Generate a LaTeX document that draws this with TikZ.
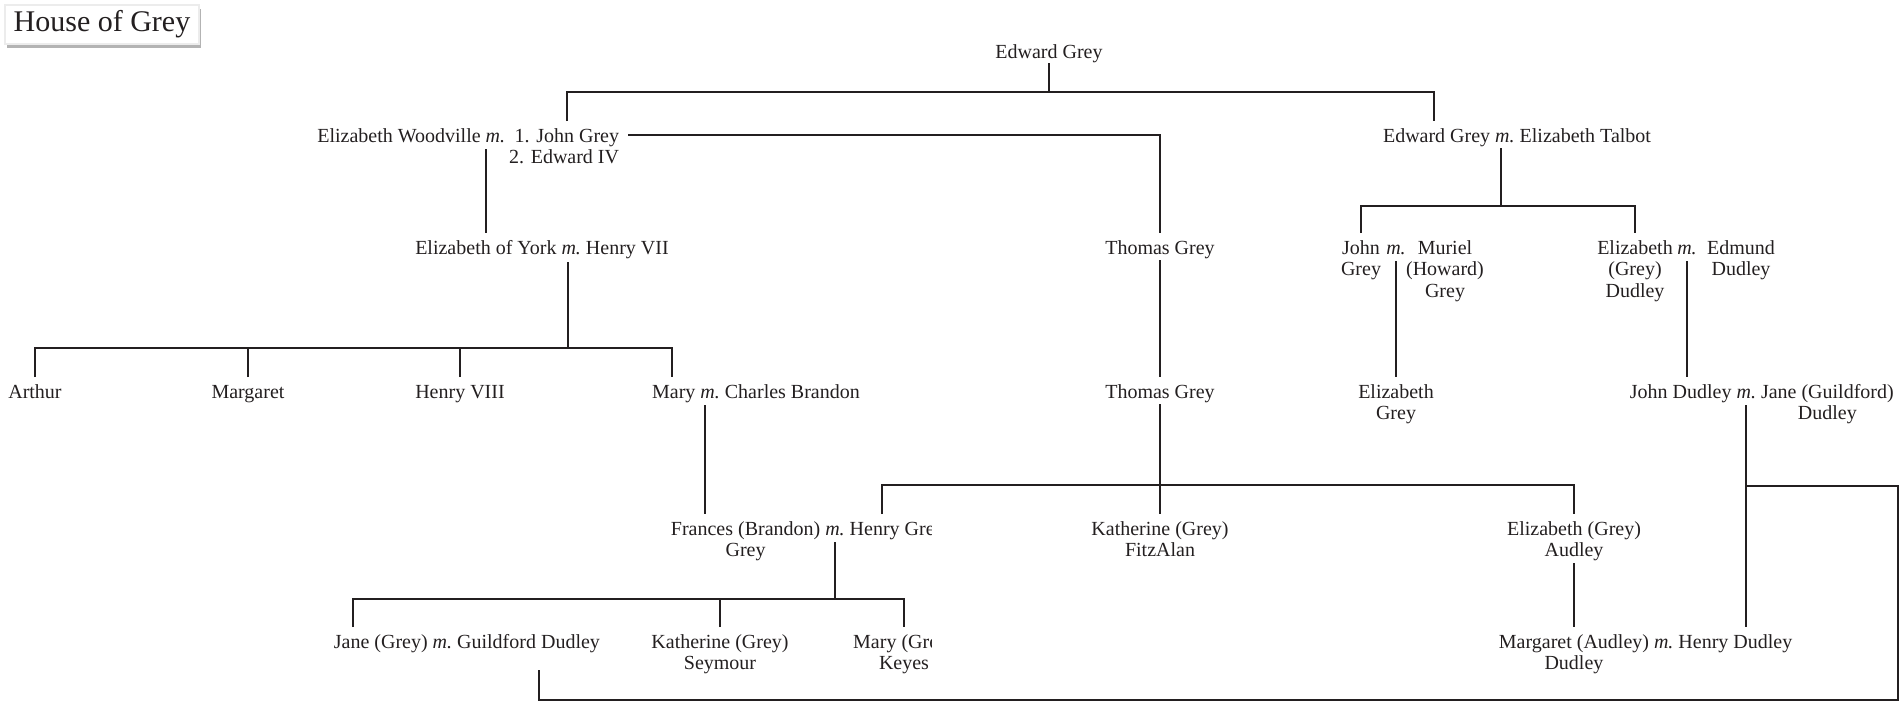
\documentclass[tikz,border=0pt]{standalone}
\usepackage{fontspec}
\setmainfont{Liberation Serif}
\usetikzlibrary{positioning,shadows}
\definecolor{ink}{HTML}{231F20}

\tikzset{
  pers/.style={anchor=base, inner xsep=0pt, inner ysep=3pt, text height=7pt,
    font=\fontsize{10pt}{10.75pt}\selectfont},
  titlebox/.style={draw=gray!15, fill=white, inner sep=0pt, minimum width=97pt,
    minimum height=19.5pt, font=\fontsize{15pt}{18pt}\selectfont,
    drop shadow={shadow xshift=1.2pt, shadow yshift=-2pt, opacity=0.6}}
}
\newcommand{\mm}{\textit{m.}}
\newcommand{\lines}[1]{\begin{tabular}[t]{@{}c@{}}#1\end{tabular}}

\begin{document}
\begin{tikzpicture}[x=0.5pt, y=-0.5pt, color=ink, line width=0.9pt]
    \useasboundingbox (0,0) rectangle (1900,702);

    % Title
    \node[titlebox] (ttl) at (102,24.5) {House of Grey};

    % Generation 1
    \node[pers] (eg) at (1049,58) {Edward Grey};

    % Generation 2
    \node[pers, anchor=base east] (ew) at (506,142) {Elizabeth Woodville \mm};
    \node[pers, anchor=base east] (jg) at (620,142) {\begin{tabular}[t]{@{}r@{}}1. John Grey\\2. Edward IV\end{tabular}};
    \node[pers] (egt) at (1517,142) {Edward Grey \mm\ Elizabeth Talbot};

    % Generation 3
    \node[pers] (ey) at (542,254) {Elizabeth of York \mm\ Henry VII};
    \node[pers] (tg1) at (1160,254) {Thomas Grey};
    \node[pers] (john) at (1361,254) {\lines{John\\Grey}};
    \node[pers] (mjm) at (1396,254) {\mm};
    \node[pers] (mur) at (1445,254) {\lines{Muriel\\(Howard)\\Grey}};
    \node[pers] (eld) at (1635,254) {\lines{Elizabeth\\(Grey)\\Dudley}};
    \node[pers] (med) at (1687,254) {\mm};
    \node[pers] (edm) at (1741,254) {\lines{Edmund\\Dudley}};

    % Generation 4
    \node[pers] (arthur) at (35,398) {Arthur};
    \node[pers] (marg) at (248,398) {Margaret};
    \node[pers] (h8) at (460,398) {Henry VIII};
    \node[pers] (mary) at (756,398) {Mary \mm\ Charles Brandon};
    \node[pers] (tg2) at (1160,398) {Thomas Grey};
    \node[pers] (elg) at (1396,398) {\lines{Elizabeth\\Grey}};
    \node[pers, anchor=base west] (jd) at (1629,398) {John Dudley \mm\ \lines{Jane (Guildford)\\Dudley}};

    % Generation 5
    \begin{scope}
      \clip (600,500) rectangle (931,690);
      \node[pers, anchor=base west] (fb) at (670,535) {\lines{Frances (Brandon)\\Grey} \mm\ Henry Grey};
      \node[pers] (mgk) at (904,648) {\lines{Mary (Grey)\\Keyes}};
    \end{scope}
    \node[pers] (kgf) at (1160,535) {\lines{Katherine (Grey)\\FitzAlan}};
    \node[pers] (ega) at (1574,535) {\lines{Elizabeth (Grey)\\Audley}};

    % Generation 6
    \node[pers, anchor=base west] (jane) at (333,648) {Jane (Grey) \mm\ Guildford Dudley};
    \node[pers] (kgs) at (720,648) {\lines{Katherine (Grey)\\Seymour}};
    \node[pers, anchor=base west] (mad) at (1498,648) {\lines{Margaret (Audley)\\Dudley} \mm\ Henry Dudley};

    % descent points
    \coordinate (dEG) at ([yshift=-2.5pt]eg.base);
    \coordinate (dEW) at (486,149);
    \coordinate (dET) at (1501,148);
    \coordinate (dEY) at (568,262);
    \coordinate (dMB) at (705,405);
    \coordinate (dJD) at (1746,405);
    \coordinate (dFB) at (835,542);
    \coordinate (dEA) at (1574,563);
    \coordinate (dGD) at (539,670);

    % Edward Grey's sons
    \draw (dEG) -- (dEG |- 0,92);
    \draw (567,0 |- ew.north) |- (1434,92) -- (1434,0 |- egt.north);

    % John Grey -> Thomas Grey
    \draw ([xshift=4pt,yshift=3.5pt]jg.base east) -| (tg1.north);

    % Woodville line
    \draw (dEW) -- (dEW |- ey.north);

    % Talbot line
    \draw (dET) -- (1501,206);
    \draw (john.north) |- (1501,206) -| (eld.north);

    % Tudor children
    \draw (dEY) -- (568,348);
    \draw (arthur.north) |- (672,348) -- (672,0 |- mary.north);
    \draw (marg.north) -- (marg.north |- 0,348);
    \draw (h8.north) -- (h8.north |- 0,348);

    % Thomas Grey, Elizabeth Grey, John Dudley
    \draw ([yshift=-3pt]tg1.base) -- (tg2.north);
    \draw (mjm.south) -- (mjm.south |- elg.north);
    \draw (med.south) -- (med.south |- jd.north);

    % Brandon line
    \draw (dMB) -- (dMB |- fb.north);

    % Thomas Grey's children
    \draw ([yshift=-3pt]tg2.base) -- (kgf.north);
    \draw (882,0 |- fb.north) |- (1574,485) -- (ega.north);

    % Frances and Henry Grey's daughters
    \draw (dFB) -- (835,599);
    \draw (353,0 |- jane.north) |- (mgk.north |- 0,599) -- (mgk.north);
    \draw (kgs.north) -- (kgs.north |- 0,599);

    % Audley and Dudley
    \draw (dEA) -- (dEA |- mad.north);
    \draw (dJD) -- (dJD |- mad.north);

    % Guildford Dudley back to his parents
    \draw (dJD |- 0,486) -- (1898,486) |- (dGD |- 0,700) -- (dGD);
\end{tikzpicture}
\end{document}
